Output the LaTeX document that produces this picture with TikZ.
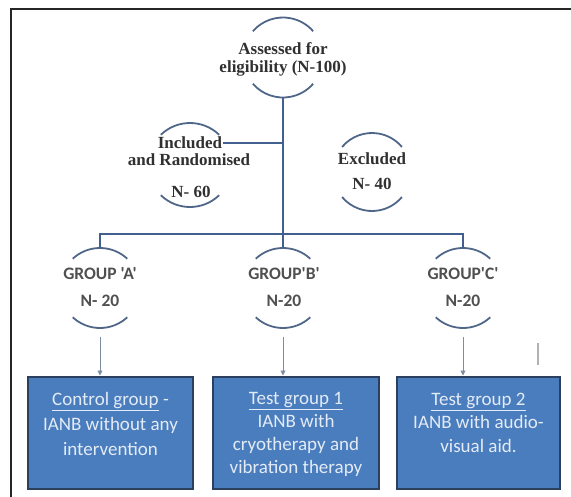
\documentclass[tikz,border=0pt]{standalone}
\usepackage{fontspec}
\setmainfont{Liberation Serif}
\newfontfamily\calfont{Carlito}
\usetikzlibrary{arrows.meta}
\definecolor{conn}{HTML}{41608F}
\definecolor{arcc}{HTML}{4F6688}
\definecolor{boxfill}{HTML}{4A7DBE}
\definecolor{boxedge}{HTML}{2B3F5E}
\definecolor{boxtext}{HTML}{E3EBF6}
\definecolor{arrc}{HTML}{7F8DA3}
\definecolor{ttext}{HTML}{303030}
\definecolor{gtext}{HTML}{505050}
\tikzset{
  ring/.style={circle, inner sep=0pt, outer sep=0pt},
  arcline/.style={draw=arcc, line width=1.8pt},
  connline/.style={draw=conn, line width=1.8pt},
  arr/.style={draw=arrc, line width=0.9pt, -{Triangle[length=5pt,width=5pt]}},
  serift/.style={text=ttext, font=\fontsize{17}{18}\selectfont\bfseries, inner sep=1pt, align=center},
  grouptxt/.style={text=gtext, font=\calfont\bfseries\fontsize{17.5}{27}\selectfont, align=center, inner sep=0pt},
  box/.style={draw=boxedge, fill=boxfill, line width=2pt, inner sep=0pt},
  boxtxt/.style={text=boxtext, font=\calfont\fontsize{19}{25}\selectfont, align=center, inner sep=0pt},
}
\begin{document}
\begin{tikzpicture}[x=1pt, y=-1pt]
\useasboundingbox (0,0) rectangle (571,496);
% frame
\draw[black!85, line width=2.5pt] (11,500) -- (11,9) -- (575,9);
% top node
\node[ring, minimum size=80pt] (top) at (283,57.5) {};
\node[serift] (toptx) at (283,59) {Assessed for\\eligibility (N-100)};
\draw[arcline] (top.139) arc[start angle=139, end angle=41, radius=40pt];
\draw[arcline] (top.221) arc[start angle=221, end angle=319, radius=40pt];
% included
\node[ring, minimum size=84pt] (inc) at (190,165) {};
\draw[arcline] (inc.134) arc[start angle=134, end angle=46, radius=42pt];
\draw[arcline] (inc.226) arc[start angle=226, end angle=314, radius=42pt];
\node[serift] (inc1) at (190,143) {Included};
\node[serift] (inc2) at (189,160) {and Randomised};
\node[serift] (inc3) at (191,192) {N- 60};
% excluded
\node[ring, minimum size=78pt] (exc) at (372,172) {};
\draw[arcline] (exc.140) arc[start angle=140, end angle=40, radius=39pt];
\draw[arcline] (exc.220) arc[start angle=220, end angle=320, radius=39pt];
\node[serift, font=\fontsize{17}{25}\selectfont\bfseries] (exctx) at (372,171) {Excluded\\N- 40};
% groups
\node[ring, minimum size=80pt] (ga) at (100,288) {};
\node[ring, minimum size=80pt] (gb) at (283,288) {};
\node[ring, minimum size=80pt] (gc) at (463,288) {};
\node[grouptxt] (gat) at (100,287) {GROUP 'A'\\N- 20};
\node[grouptxt] (gbt) at (284,287) {GROUP'B'\\N-20};
\node[grouptxt] (gct) at (463,287) {GROUP'C'\\N-20};
\foreach \g in {ga,gb,gc}{
  \draw[arcline] (\g.133) arc[start angle=133, end angle=47, radius=40pt];
  \draw[arcline] (\g.227) arc[start angle=227, end angle=313, radius=40pt];
}
% connectors
\coordinate (jl) at (100,234);
\coordinate (jr) at (463,234);
\draw[connline] (top.south) -- (gb.north);
\draw[connline] (ga.north) -- (jl) -- (jr) -- (gc.north);
\draw[connline] (inc1.east) -- (inc1.east -| top.south);
% boxes
\node[box, minimum width=165pt, minimum height=112pt] (boxa) at (110.5,432.5) {};
\node[box, minimum width=166pt, minimum height=112pt] (boxb) at (296,432.5) {};
\node[box, minimum width=163pt, minimum height=112pt] (boxc) at (478.5,432.5) {};
\node[boxtxt, anchor=north] (ta) at ([yshift=-17pt]boxa.north) {\underline{Control group} -\\IANB without any\\intervention};
\node[boxtxt, anchor=north, font=\calfont\fontsize{19}{23}\selectfont] (tb) at ([yshift=-17pt]boxb.north) {\underline{Test group 1}\\IANB with\\cryotherapy and\\vibration therapy};
\node[boxtxt, anchor=north, font=\calfont\fontsize{19}{23.5}\selectfont] (tc) at ([yshift=-17pt]boxc.north) {\underline{Test group 2}\\IANB with audio-\\visual aid.};
% arrows
\draw[arr, shorten <=9pt] (ga.south) -- (ga.south |- boxa.north);
\draw[arr, shorten <=9pt] (gb.south) -- (gb.south |- boxb.north);
\draw[arr, shorten <=9pt] (gc.south) -- (gc.south |- boxc.north);
% stray mark
\draw[black!30, line width=1.3pt] (538,343) -- (538,365);
\end{tikzpicture}
\end{document}
